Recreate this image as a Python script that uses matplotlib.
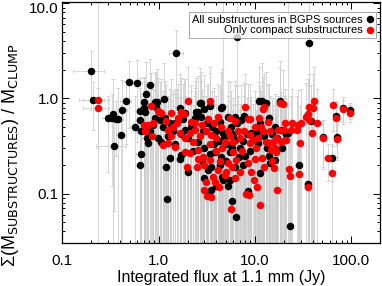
import matplotlib
matplotlib.use("Agg")
import matplotlib.pyplot as plt
from matplotlib.lines import Line2D
from matplotlib.ticker import NullFormatter
from matplotlib.transforms import ScaledTranslation

plt.rcParams["font.family"] = ["Liberation Sans", "DejaVu Sans"]

# all substructures in BGPS sources (black)
all_flux = [0.20, 0.21, 0.30, 0.33, 0.34, 0.36, 0.38, 0.42, 0.46, 0.49, 0.60, 0.81, 0.745, 0.71, 0.92,
            1.14, 0.344, 0.41, 0.565, 0.64, 0.64, 0.66, 0.65, 0.64, 0.71, 0.73, 0.75, 1.20, 1.23, 1.53,
            6.47, 36.5, 23.0, 6.4, 5.8, 0.93, 0.91, 0.87, 1.03, 1.11, 0.99, 1.07, 0.81, 0.78, 0.97,
            1.16, 1.66, 2.67, 3.4, 4.5, 7.8, 2.56, 2.78, 6.25, 7.2, 1.30, 1.87, 4.66, 6.16, 9.96,
            1.72, 1.30, 1.66, 3.82, 4.3, 5.5, 7.5, 8.5, 2.02, 3.0, 3.52, 5.25, 3.26, 4.66, 11.0,
            13.1, 18.1, 14.0, 11.2, 16.1, 18.8, 22.1, 16.1, 14.0, 11.4, 8.5, 9.2, 10.8, 38.4, 83.5,
            98.5, 70.2, 72.0, 50.9, 63.7, 28.5, 35.5, 2.46, 2.75, 4.55, 5.25, 1.5, 1.8, 2.2, 2.4,
            2.9, 3.2, 3.6, 4.0, 4.3, 4.8, 5.2, 5.8, 6.0, 7.0, 7.5, 8.0, 9.0, 10.5, 12.5,
            13.5, 15.0, 17.0, 19.0, 21.0, 3.0, 3.4, 4.5, 5.0, 5.5, 6.2, 2.6, 2.0, 1.7, 1.4,
            3.8, 4.2, 4.6, 4.0, 3.5, 5.6, 6.5, 8.3, 1.25, 1.5, 2.3, 2.8, 6.8, 14.5, 3.0,
            3.3, 12.0, 1.9]
all_flux_err = [0.07, 0.06, 0.04, 0.04, 0.04, 0.05, 0.05, 0.05, 0.06, 0.07, 0.08, 0.10, 0.08, 0.07, 0.10,
                0.12, 0.12, 0.05, 0.06, 0.06, 0.06, 0.07, 0.06, 0.07, 0.07, 0.07, 0.08, 0.12, 0.12, 0.25,
                0.5, 3.0, 2.0, 0.5, 0.5, 0.08, 0.08, 0.08, 0.1, 0.1, 0.1, 0.1, 0.08, 0.08, 0.1,
                0.1, 0.15, 0.2, 0.3, 0.35, 0.6, 0.2, 0.2, 0.5, 0.6, 0.1, 0.15, 0.4, 0.5, 0.8,
                0.15, 0.12, 0.15, 0.3, 0.35, 0.4, 0.6, 0.7, 0.15, 0.25, 0.3, 0.4, 0.25, 0.4, 0.9,
                1.0, 1.5, 1.1, 0.9, 1.3, 1.5, 1.8, 1.3, 1.1, 0.9, 0.7, 0.8, 0.9, 3.0, 7.0,
                8.0, 6.0, 6.0, 4.0, 5.0, 2.3, 3.0, 0.2, 0.2, 0.35, 0.4, 0.12, 0.15, 0.18, 0.2,
                0.25, 0.25, 0.3, 0.3, 0.35, 0.4, 0.4, 0.5, 0.5, 0.6, 0.6, 0.6, 0.7, 0.8, 1.0,
                1.1, 1.2, 1.4, 1.5, 1.7, 0.25, 0.3, 0.35, 0.4, 0.45, 0.5, 0.2, 0.15, 0.15, 0.12,
                0.3, 0.35, 0.35, 0.3, 0.3, 0.45, 0.5, 0.7, 0.1, 0.12, 0.2, 0.22, 0.55, 1.2, 0.25,
                0.25, 1.0, 0.15]
all_ratio = [1.95, 0.97, 0.62, 0.62, 0.68, 0.60, 0.60, 0.75, 0.93, 1.49, 1.45, 1.38, 1.11, 0.92, 0.91,
             0.98, 0.315, 0.41, 0.50, 0.74, 0.59, 0.45, 0.26, 0.20, 0.79, 0.72, 0.38, 0.19, 0.088, 3.00,
             4.37, 3.84, 0.046, 0.057, 0.083, 0.82, 0.62, 0.52, 0.59, 0.50, 0.38, 0.35, 0.45, 0.34, 0.92,
             0.62, 0.80, 0.90, 0.83, 0.785, 0.65, 0.72, 0.64, 0.64, 0.59, 0.55, 0.465, 0.43, 0.365, 0.38,
             0.254, 0.238, 0.23, 0.275, 0.20, 0.139, 0.20, 0.107, 0.169, 0.144, 0.109, 0.12, 0.177, 0.139, 0.944,
             0.90, 0.944, 0.616, 0.546, 0.50, 0.47, 0.43, 0.225, 0.247, 0.166, 0.105, 0.43, 0.337, 0.577, 0.785,
             0.75, 0.65, 0.395, 0.39, 0.234, 0.20, 0.125, 0.72, 0.89, 0.82, 0.63, 0.55, 0.60, 0.50, 0.62,
             0.45, 0.55, 0.50, 0.45, 0.56, 0.38, 0.33, 0.30, 0.42, 0.30, 0.36, 0.25, 0.28, 0.44, 0.40,
             0.30, 0.42, 0.38, 0.30, 0.42, 0.30, 0.26, 0.24, 0.22, 0.27, 0.19, 0.35, 0.38, 0.42, 0.45,
             0.33, 0.36, 0.15, 0.12, 0.19, 0.50, 0.55, 0.42, 0.40, 0.33, 0.28, 0.22, 0.24, 0.21, 0.78,
             0.10, 0.95, 0.70]
all_ratio_err = [1.2, 0.5, 0.45, 0.5, 0.9, 0.35, 0.7, 0.8, 0.6, 1.0, 1.1, 1.2, 1.3, 0.7, 1.0,
                 1.4, 0.25, 0.45, 0.55, 0.9, 0.7, 0.6, 0.3, 0.25, 0.9, 0.8, 0.5, 0.3, 0.1, 2.2,
                 8.0, 8.0, 0.1, 0.08, 0.12, 1.0, 0.8, 0.7, 0.9, 0.7, 0.6, 0.5, 0.6, 0.5, 1.1,
                 0.9, 1.0, 1.2, 1.0, 1.1, 0.8, 1.0, 0.9, 0.9, 0.8, 0.7, 0.6, 10.0, 0.5, 0.5,
                 0.4, 0.35, 0.35, 0.4, 0.3, 0.2, 0.3, 0.2, 0.25, 0.2, 0.15, 0.2, 0.25, 0.2, 1.2,
                 1.0, 1.5, 0.8, 0.8, 0.6, 0.7, 10.0, 0.4, 0.4, 0.25, 0.15, 0.6, 0.5, 0.8, 0.25,
                 0.15, 0.3, 0.15, 0.2, 0.1, 0.3, 0.3, 0.9, 1.0, 1.2, 0.9, 0.7, 0.8, 0.7, 0.9,
                 0.6, 0.8, 0.7, 0.6, 0.8, 0.5, 0.5, 0.45, 0.6, 0.45, 0.5, 0.4, 0.4, 0.6, 0.5,
                 0.45, 0.6, 0.5, 0.45, 0.6, 0.45, 0.4, 0.35, 0.35, 0.4, 0.3, 0.5, 0.55, 0.6, 0.65,
                 0.5, 0.5, 0.25, 0.2, 0.3, 0.7, 0.8, 0.6, 0.6, 0.5, 0.4, 0.35, 0.35, 0.35, 1.0,
                 0.15, 1.4, 0.9]

# only compact substructures (red)
compact_flux = [0.235, 0.235, 0.83, 2.02, 3.4, 7.9, 1.05, 1.34, 1.72, 1.84, 4.14, 8.6, 0.78, 0.87, 0.85,
                1.25, 1.41, 1.56, 1.66, 2.19, 2.1, 2.37, 2.67, 3.13, 3.5, 3.97, 5.25, 5.5, 6.68, 7.8,
                8.85, 10.3, 1.11, 1.25, 1.47, 1.87, 2.1, 2.56, 2.89, 3.39, 4.14, 4.86, 5.25, 6.25, 6.4,
                8.5, 9.2, 8.1, 1.99, 2.5, 3.13, 3.0, 3.52, 4.23, 3.0, 3.67, 3.82, 5.04, 5.7, 11.4,
                12.4, 12.1, 18.1, 19.6, 41.6, 36.4, 13.7, 8.85, 11.7, 12.1, 17.4, 20.0, 20.6, 20.4, 16.7,
                15.8, 11.9, 9.96, 9.8, 10.6, 8.7, 8.85, 9.54, 10.8, 13.1, 14.2, 15.4, 16.7, 18.8, 21.2,
                16.4, 14.8, 28.0, 27.6, 30.3, 35.5, 34.2, 36.9, 39.1, 44.6, 64.9, 83.5, 98.5, 70.2, 72.0,
                50.9, 29.5, 57.4, 63.2, 28.7, 35.5, 22.5, 23.0, 17.0, 0.72, 0.70, 0.98, 3.2, 40.0, 1.2,
                1.6, 2.4, 2.8, 3.3, 3.8, 4.5, 4.9, 6.0, 7.0, 7.3, 6.0, 4.6, 4.0, 3.4, 2.3,
                1.9, 1.35, 5.5, 6.3, 11.0, 10.0, 14.5, 24.0, 24.5, 4.3, 5.8, 7.0, 2.6, 12.5, 15.0]
compact_flux_err = [0.07, 0.07, 0.08, 0.15, 0.3, 0.6, 0.1, 0.1, 0.15, 0.15, 0.3, 0.7, 0.08, 0.08, 0.08,
                    0.1, 0.12, 0.12, 0.15, 0.18, 0.18, 0.2, 0.2, 0.25, 0.3, 0.3, 0.4, 0.45, 0.5, 0.6,
                    0.7, 0.8, 0.1, 0.1, 0.12, 0.15, 0.18, 0.2, 0.22, 0.25, 0.3, 0.4, 0.4, 0.5, 0.5,
                    0.7, 0.7, 0.6, 0.15, 0.2, 0.25, 0.25, 0.3, 0.35, 0.25, 0.3, 0.3, 0.4, 0.45, 0.9,
                    1.0, 1.0, 1.5, 1.6, 3.5, 3.0, 1.1, 0.7, 0.9, 1.0, 1.4, 1.6, 1.7, 1.7, 1.3,
                    1.3, 1.0, 0.8, 0.8, 0.9, 0.7, 0.7, 0.8, 0.9, 1.0, 1.1, 1.2, 1.3, 1.5, 1.7,
                    1.3, 1.2, 2.2, 2.2, 2.4, 2.8, 2.7, 3.0, 3.1, 3.6, 5.0, 7.0, 8.0, 6.0, 6.0,
                    4.0, 2.4, 4.5, 5.0, 2.3, 2.8, 1.8, 1.8, 1.4, 0.07, 0.07, 0.1, 0.25, 3.2, 0.1,
                    0.13, 0.2, 0.22, 0.25, 0.3, 0.35, 0.4, 0.5, 0.55, 0.6, 0.5, 0.35, 0.3, 0.25, 0.18,
                    0.15, 0.1, 0.45, 0.5, 0.9, 0.8, 1.2, 2.0, 2.0, 0.35, 0.45, 0.55, 0.2, 1.0, 1.2]
compact_ratio = [0.97, 0.80, 0.83, 0.94, 0.94, 0.82, 0.70, 0.70, 0.72, 0.68, 0.63, 0.60, 0.52, 0.55, 0.40,
                 0.465, 0.50, 0.55, 0.43, 0.57, 0.43, 0.465, 0.40, 0.45, 0.41, 0.38, 0.45, 0.40, 0.45, 0.45,
                 0.41, 0.30, 0.32, 0.34, 0.31, 0.275, 0.264, 0.287, 0.244, 0.225, 0.177, 0.157, 0.208, 0.147, 0.225,
                 0.208, 0.17, 0.098, 0.188, 0.188, 0.133, 0.109, 0.093, 0.116, 0.20, 0.15, 0.133, 0.17, 0.068, 0.076,
                 0.82, 0.77, 0.90, 0.865, 0.94, 0.816, 0.57, 0.60, 0.50, 0.45, 0.465, 0.465, 0.365, 0.546, 0.275,
                 0.184, 0.234, 0.23, 0.139, 0.118, 0.097, 0.337, 0.365, 0.38, 0.35, 0.337, 0.35, 0.38, 0.35, 0.365,
                 0.30, 0.287, 0.52, 0.465, 0.546, 0.68, 0.64, 0.59, 0.435, 0.546, 0.85, 0.77, 0.71, 0.616, 0.373,
                 0.38, 0.34, 0.234, 0.163, 0.159, 0.118, 0.18, 0.153, 0.109, 0.45, 0.52, 0.73, 0.095, 0.80, 0.58,
                 0.62, 0.55, 0.52, 0.60, 0.55, 0.50, 0.35, 0.35, 0.38, 0.28, 0.27, 0.30, 0.28, 0.33, 0.35,
                 0.38, 0.40, 0.62, 0.58, 0.62, 0.50, 0.45, 0.46, 0.55, 0.22, 0.19, 0.17, 0.23, 0.19, 0.22]
compact_ratio_err = [9.5, 0.5, 1.0, 1.2, 1.2, 1.0, 0.9, 0.9, 0.9, 0.9, 0.8, 0.8, 0.7, 0.7, 0.5,
                     0.6, 0.7, 0.7, 0.6, 0.8, 0.6, 0.6, 0.55, 0.6, 0.55, 0.5, 0.6, 0.55, 0.6, 0.6,
                     0.55, 0.45, 0.45, 0.5, 0.45, 0.4, 0.4, 0.4, 0.35, 0.35, 0.25, 0.25, 0.3, 0.2, 0.35,
                     0.3, 0.25, 0.15, 0.3, 0.3, 0.2, 0.15, 0.15, 0.2, 0.3, 0.25, 0.2, 0.25, 0.1, 0.15,
                     1.0, 0.9, 1.2, 1.1, 1.2, 1.0, 0.8, 0.8, 0.7, 0.6, 0.6, 0.6, 0.5, 0.7, 0.4,
                     0.3, 0.35, 0.35, 0.2, 0.2, 0.15, 0.5, 0.5, 0.5, 0.5, 0.5, 0.5, 0.5, 0.5, 0.5,
                     0.45, 0.4, 0.7, 0.6, 0.7, 0.9, 0.8, 0.8, 0.6, 0.7, 0.4, 0.2, 0.15, 0.3, 0.15,
                     0.2, 0.5, 0.1, 0.15, 0.25, 0.2, 0.3, 0.25, 0.2, 0.6, 0.7, 0.9, 0.15, 1.0, 0.8,
                     0.8, 0.75, 0.7, 0.8, 0.75, 0.7, 0.5, 0.5, 0.5, 0.4, 0.4, 0.45, 0.4, 0.45, 0.5,
                     0.55, 0.55, 0.85, 0.8, 0.85, 0.7, 0.6, 0.6, 0.7, 0.35, 0.3, 0.25, 0.35, 0.3, 0.35]

fig = plt.figure(figsize=(3.82, 2.86), dpi=100)
ax = fig.add_axes([62.3/382, 1 - 243.3/286, (380 - 62.3)/382, (243.3 - 2)/286])
ax.set_xscale("log"); ax.set_yscale("log")

eb = dict(fmt="none", ecolor="0.8", elinewidth=0.55, capsize=1.5, capthick=0.55, zorder=1)
ax.errorbar(all_flux, all_ratio, xerr=all_flux_err, yerr=all_ratio_err, **eb)
ax.errorbar(compact_flux, compact_ratio, xerr=compact_flux_err, yerr=compact_ratio_err, **eb)
ax.plot(all_flux, all_ratio, "o", color="black", ms=5.4, mew=0, zorder=2)
ax.plot(compact_flux, compact_ratio, "o", color="red", ms=5.4, mew=0, zorder=3)

ax.set_xlim(0.1, 200); ax.set_ylim(0.03, 10.3)
ax.set_xticks([0.1, 1, 10, 100]); ax.set_xticklabels(["0.1", "1.0", "10.0", "100.0"])
ax.set_yticks([0.1, 1, 10]); ax.set_yticklabels(["0.1", "1.0", "10.0"])
ax.xaxis.set_minor_formatter(NullFormatter()); ax.yaxis.set_minor_formatter(NullFormatter())
ax.tick_params(which="both", direction="in", top=True, right=True, width=0.7, labelsize=11)
ax.tick_params(which="major", length=5)
ax.tick_params(which="minor", length=2.5)
ax.tick_params(axis="x", pad=8)
ax.tick_params(axis="y", pad=2.5)
for s in ax.spines.values():
    s.set_linewidth(0.9)
# top label would be cut at the figure edge: nudge it down a little
top_lab = ax.get_yticklabels()[-1]
top_lab.set_transform(top_lab.get_transform() + ScaledTranslation(0, -4/100, fig.dpi_scale_trans))

ax.set_xlabel("Integrated flux at 1.1 mm (Jy)", fontsize=11.5, labelpad=1)
fig.text(10.5/382, 1 - 155/286, "Σ(M$_{\\rm SUBSTRUCTURES}$) / M$_{\\rm CLUMP}$",
         rotation=90, ha="center", va="center", fontsize=13)
plt.rcParams["mathtext.fontset"] = "custom"

handles = [Line2D([], [], marker="o", ls="none", color="black", ms=5.4, mew=0),
           Line2D([], [], marker="o", ls="none", color="red", ms=5.4, mew=0)]
leg = ax.legend(handles, ["All substructures in BGPS sources", "Only compact substructures"],
                loc="upper right", bbox_to_anchor=(0.988, 0.958), markerfirst=False, fontsize=8,
                frameon=True, fancybox=False, borderpad=0.25, labelspacing=0.05,
                handlelength=0.7, handletextpad=0.25, borderaxespad=0)
leg.get_frame().set_edgecolor("0.5"); leg.get_frame().set_linewidth(0.6)

fig.savefig("out.png", dpi=100)
